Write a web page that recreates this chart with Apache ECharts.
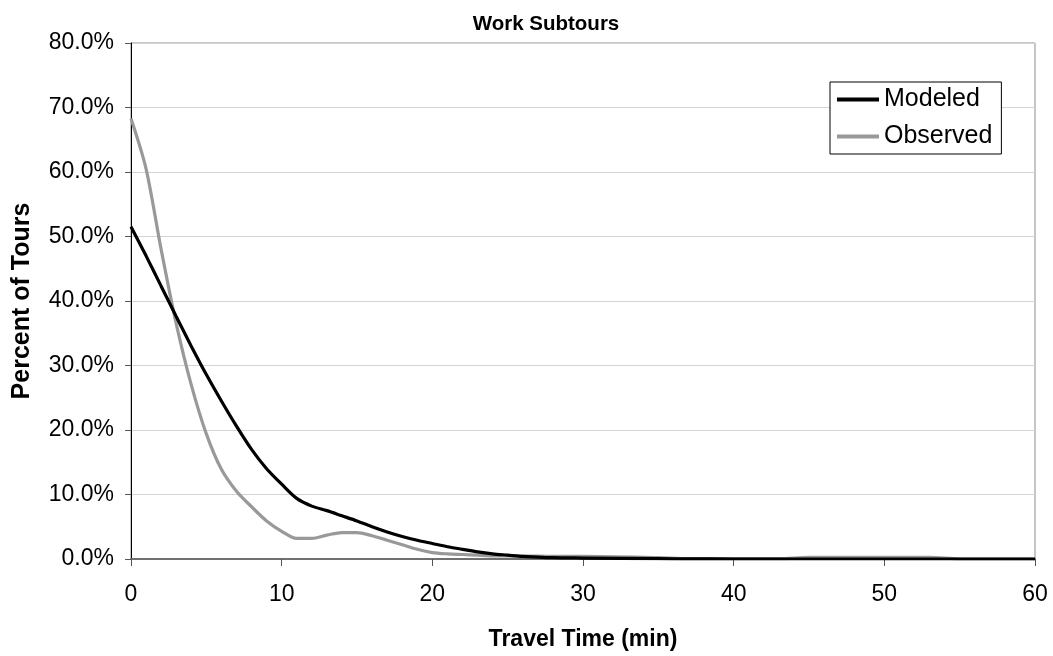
<!DOCTYPE html>
<html>
<head>
<meta charset="utf-8">
<script src="https://cdn.jsdelivr.net/npm/echarts@6/dist/echarts.min.js"></script>
<style>
  html, body { margin: 0; padding: 0; background: #fff; }
  #chart { width: 1053px; height: 656px; }
</style>
</head>
<body>
<div id="chart"></div>
<script>
// Travel time (minutes) at which each share is recorded
const minutes = [0,1,2,3,4,5,6,7,8,9,10,11,12,13,14,15,16,17,18,19,20,21,22,23,24,25,26,27,28,30,35,37,40,43,45,50,53,55,60];
// Percent of tours, modeled
const modeled = [51.5,47,42.3,37.6,33,28.6,24.5,20.6,17,14,11.6,9.4,8.2,7.5,6.7,5.9,5.0,4.2,3.5,2.9,2.4,1.9,1.5,1.1,0.8,0.6,0.4,0.3,0.2,0.15,0.05,0.02,0,0,0,0,0,0,0];
// Percent of tours, observed
const observed = [68.3,60.5,48,36.5,27,19.4,13.9,10.5,8.1,5.9,4.3,3.2,3.2,3.7,4.1,4.1,3.6,2.9,2.2,1.5,1.0,0.8,0.7,0.6,0.5,0.5,0.45,0.45,0.4,0.4,0.2,0.05,0.05,0.05,0.25,0.25,0.25,0,0];
const seriesNames = ['Modeled', 'Observed'];
const yTicks = { min: 0, max: 80, interval: 10 };
const xTicks = { min: 0, max: 60, interval: 10 };

const font = "'Liberation Sans', Arial, sans-serif";
const pairs = arr => minutes.map((m, i) => [m, arr[i]]);

const chart = echarts.init(document.getElementById('chart'), null, { renderer: 'canvas' });
chart.setOption({
  animation: false,
  backgroundColor: '#fff',
  title: {
    text: 'Work Subtours',
    left: 541, top: 9, textAlign: 'center',
    textStyle: { fontFamily: font, fontSize: 20.5, fontWeight: 'bold', color: '#000' }
  },
  grid: {
    left: 131, right: 18, top: 43, bottom: 97,
    show: true, borderColor: '#8c8c8c', borderWidth: 1
  },
  legend: {
    data: seriesNames,
    orient: 'vertical',
    left: 830, top: 82,
    padding: [5, 9, 5, 7],
    itemGap: 12,
    itemWidth: 42, itemHeight: 4,
    icon: 'rect',
    borderColor: '#000', borderWidth: 1, borderRadius: 0,
    backgroundColor: '#fff',
    textStyle: { fontFamily: font, fontSize: 25, color: '#000' }
  },
  xAxis: {
    type: 'value',
    min: xTicks.min, max: xTicks.max, interval: xTicks.interval,
    name: 'Travel Time (min)',
    nameLocation: 'middle', nameGap: 69,
    nameTextStyle: { fontFamily: font, fontSize: 23, fontWeight: 'bold', color: '#000' },
    axisLine: { show: true, lineStyle: { color: '#707070', width: 2 } },
    axisTick: { show: true, inside: false, length: 7, lineStyle: { color: '#555' } },
    axisLabel: { fontFamily: font, fontSize: 23, color: '#000', margin: 24 },
    splitLine: { show: false }
  },
  yAxis: {
    type: 'value',
    min: yTicks.min, max: yTicks.max, interval: yTicks.interval,
    name: 'Percent of Tours',
    nameLocation: 'middle', nameGap: 96,
    nameTextStyle: { fontFamily: font, fontSize: 25, fontWeight: 'bold', color: '#000' },
    axisLine: { show: true, lineStyle: { color: '#000', width: 1 } },
    axisTick: { show: true, inside: false, length: 6, lineStyle: { color: '#555' } },
    axisLabel: {
      fontFamily: font, fontSize: 23, color: '#000', margin: 17,
      formatter: v => v.toFixed(1) + '%'
    },
    splitLine: { show: true, lineStyle: { color: '#d4d4d4', width: 1 } }
  },
  series: [
    {
      name: seriesNames[0], type: 'line', data: pairs(modeled),
      smooth: 0.3, showSymbol: false, symbol: 'none',
      lineStyle: { color: '#000', width: 3.2 }, itemStyle: { color: '#000' }, z: 3
    },
    {
      name: seriesNames[1], type: 'line', data: pairs(observed),
      smooth: 0.3, showSymbol: false, symbol: 'none',
      lineStyle: { color: '#999', width: 3.2 }, itemStyle: { color: '#999' }, z: 2
    }
  ]
});
</script>
</body>
</html>
